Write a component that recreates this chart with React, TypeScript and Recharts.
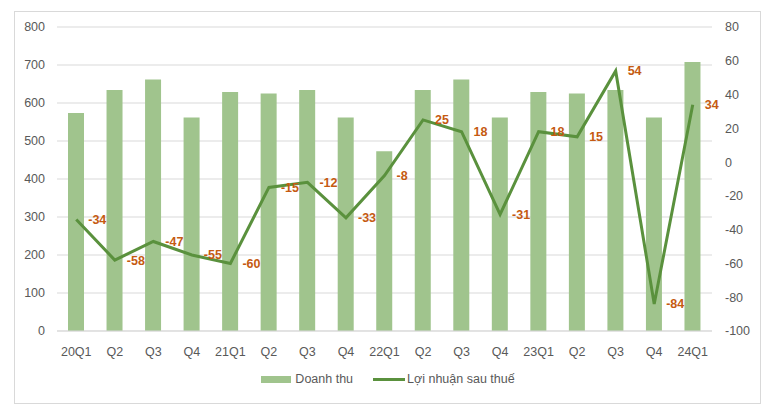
import React from 'react';
import { ComposedChart, Bar, Line, XAxis, YAxis, CartesianGrid, Legend, LabelList } from 'recharts';

const quarters = ['20Q1', 'Q2', 'Q3', 'Q4', '21Q1', 'Q2', 'Q3', 'Q4', '22Q1', 'Q2', 'Q3', 'Q4', '23Q1', 'Q2', 'Q3', 'Q4', '24Q1'];
const revenue = [574, 634, 662, 562, 629, 625, 634, 562, 473, 634, 662, 562, 629, 625, 634, 562, 708];
const profit = [-34, -58, -47, -55, -60, -15, -12, -33, -8, 25, 18, -31, 18, 15, 54, -84, 34];
const leftTicks = [0, 100, 200, 300, 400, 500, 600, 700, 800];
const rightTicks = [-100, -80, -60, -40, -20, 0, 20, 40, 60, 80];

const BAR_COLOR = '#A0C48D';
const LINE_COLOR = '#5A913D';
const LABEL_COLOR = '#C55A11';
const TEXT_COLOR = '#595959';
const FONT = '"Liberation Sans", Arial, sans-serif';

const data = quarters.map((q, i) => ({
  idx: i,
  quarter: q,
  revenue: revenue[i],
  profit: profit[i],
}));

const LegendContent = () => (
  <div style={{ display: 'flex', justifyContent: 'center', alignItems: 'center', height: 20, fontFamily: FONT, fontSize: 12.5, color: TEXT_COLOR }}>
    <span style={{ display: 'inline-block', width: 30, height: 7, background: BAR_COLOR, marginRight: 4 }} />
    <span style={{ marginRight: 20 }}>Doanh thu</span>
    <span style={{ display: 'inline-block', width: 32, height: 3, background: LINE_COLOR, marginRight: 2 }} />
    <span>Lợi nhuận sau thuế</span>
  </div>
);

const App: React.FC = () => {
  return (
    <div style={{ position: 'absolute', left: 0, top: 0, width: 777, height: 409, background: '#fff' }}>
      <div style={{ position: 'absolute', left: 14, top: 11, width: 745, height: 391, border: '1px solid #d9d9d9' }} />
      <ComposedChart
        width={777}
        height={409}
        data={data}
        margin={{ top: 27, right: 15, left: 14, bottom: 20 }}
        style={{ position: 'absolute', left: 0, top: 0 }}
      >
        <CartesianGrid yAxisId="left" vertical={false} stroke="#d9d9d9" />
        <XAxis
          dataKey="idx"
          tickFormatter={(i: number) => quarters[i]}
          interval={0}
          axisLine={{ stroke: '#d9d9d9' }}
          tickLine={false}
          height={38}
          tickMargin={10}
          tick={{ fill: TEXT_COLOR, fontSize: 12.5, fontFamily: FONT }}
        />
        <YAxis
          yAxisId="left"
          orientation="left"
          domain={[0, 800]}
          ticks={leftTicks}
          width={43}
          axisLine={false}
          tickLine={false}
          tickMargin={6}
          tick={{ fill: TEXT_COLOR, fontSize: 12.5, fontFamily: FONT }}
        />
        <YAxis
          yAxisId="right"
          orientation="right"
          domain={[-100, 80]}
          ticks={rightTicks}
          width={50}
          axisLine={false}
          tickLine={false}
          tickMargin={7}
          tick={{ fill: TEXT_COLOR, fontSize: 12.5, fontFamily: FONT }}
        />
        <Legend verticalAlign="bottom" height={20} content={<LegendContent />} />
        <Bar yAxisId="left" dataKey="revenue" name="Doanh thu" fill={BAR_COLOR} barSize={16} isAnimationActive={false} />
        <Line
          yAxisId="right"
          type="linear"
          dataKey="profit"
          name="Lợi nhuận sau thuế"
          stroke={LINE_COLOR}
          strokeWidth={3}
          dot={false}
          isAnimationActive={false}
        >
          <LabelList
            dataKey="profit"
            position="right"
            offset={12}
            fill={LABEL_COLOR}
            fontSize={12.5}
            fontWeight="bold"
            fontFamily={FONT}
          />
        </Line>
      </ComposedChart>
    </div>
  );
};

export default App;
